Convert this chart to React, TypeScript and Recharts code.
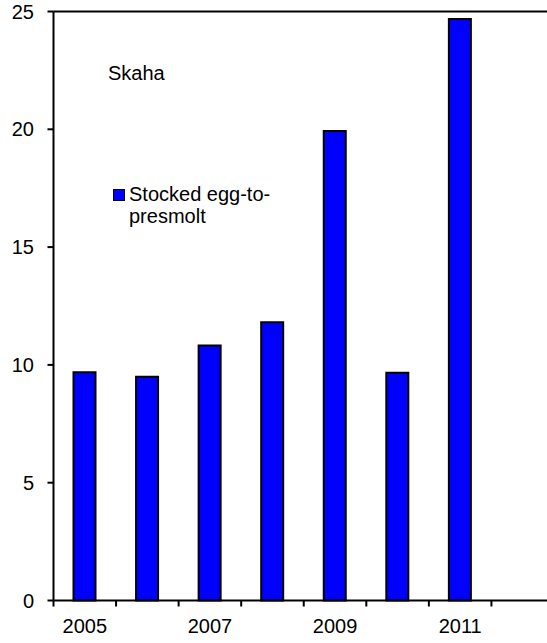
import { Bar, BarChart, ReferenceLine, XAxis, YAxis } from 'recharts';

const years = ['2005', '2006', '2007', '2008', '2009', '2010', '2011', '2012'];
const eggToPresmolt = [9.69, 9.5, 10.82, 11.81, 19.93, 9.67, 24.68, null];
const yTicks = [0, 5, 10, 15, 20, 25];
const labelledYears = ['2005', '2007', '2009', '2011'];

const data = years.map((year, i) => ({ year, value: eggToPresmolt[i] }));

const font = '"Liberation Sans", Arial, sans-serif';

function YearTick(props: any) {
  const { x, y, payload } = props;
  const half = payload.offset ?? 0;
  return (
    <g>
      <line x1={x - half} x2={x - half} y1={y} y2={y + 6} stroke="#000" strokeWidth={2} />
      {labelledYears.includes(payload.value) && (
        <text x={x} y={y + 18.5} dy="0.71em" textAnchor="middle" fontSize={20} fill="#000" fontFamily={font}>
          {payload.value}
        </text>
      )}
    </g>
  );
}

function LegendBox() {
  return (
    <div
      style={{
        position: 'absolute',
        left: 113,
        top: 183,
        display: 'flex',
        alignItems: 'flex-start',
        fontFamily: font,
        fontSize: 20,
        lineHeight: '22px',
        color: '#000',
      }}
    >
      <span
        style={{
          display: 'inline-block',
          boxSizing: 'border-box',
          width: 12,
          height: 12,
          marginTop: 6,
          marginRight: 4,
          background: '#0000ff',
          border: '1.5px solid #000',
          flexShrink: 0,
        }}
      />
      <span style={{ width: 170 }}>
        Stocked egg-to-
        <br />
        presmolt
      </span>
    </div>
  );
}

export default function App() {
  return (
    <div style={{ position: 'absolute', left: 0, top: 0, width: 547, height: 643, overflow: 'hidden', background: '#fff' }}>
      <BarChart width={560} height={643} data={data} margin={{ top: 11.5, right: 6, left: 0, bottom: 0 }} barCategoryGap={0}>
        <XAxis
          dataKey="year"
          height={42.5}
          interval={0}
          axisLine={{ stroke: '#000', strokeWidth: 2 }}
          tickLine={false}
          tickSize={0}
          tickMargin={0}
          tick={<YearTick />}
        />
        <YAxis
          domain={[0, 25]}
          ticks={yTicks}
          width={53.5}
          axisLine={{ stroke: '#000', strokeWidth: 2 }}
          tickLine={{ stroke: '#000', strokeWidth: 2 }}
          tickSize={6}
          tickMargin={13.5}
          tick={{ fill: '#000', fontSize: 20, fontFamily: font }}
        />
        <ReferenceLine y={25} stroke="#000" strokeWidth={2} />
        <Bar dataKey="value" barSize={22} fill="#0000ff" stroke="#000" strokeWidth={2} isAnimationActive={false} />
      </BarChart>
      <div style={{ position: 'absolute', left: 108, top: 63, fontFamily: font, fontSize: 20, lineHeight: '20px', color: '#000' }}>
        Skaha
      </div>
      <LegendBox />
    </div>
  );
}
